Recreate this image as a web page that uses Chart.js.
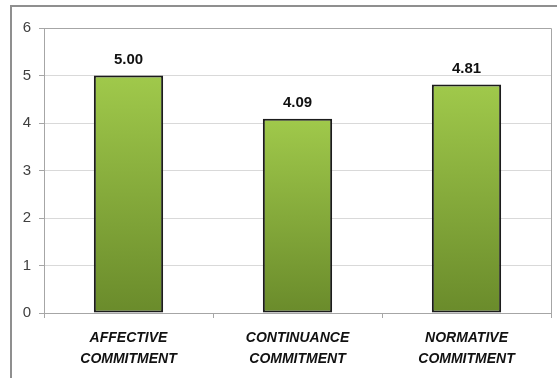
<!DOCTYPE html>
<html>
<head>
<meta charset="utf-8">
<script src="https://cdn.jsdelivr.net/npm/chart.js@4/dist/chart.umd.min.js"></script>
<style>
  html, body { margin: 0; padding: 0; background: #ffffff; }
  #wrap { position: relative; width: 557px; height: 378px; }
</style>
</head>
<body>
<div id="wrap"><canvas id="c" width="557" height="378"></canvas></div>
<script>
const categories = [["AFFECTIVE", "COMMITMENT"], ["CONTINUANCE", "COMMITMENT"], ["NORMATIVE", "COMMITMENT"]];
const values = [5.00, 4.09, 4.81];
const valueLabels = ["5.00", "4.09", "4.81"];
const yTicks = [0, 1, 2, 3, 4, 5, 6];

function barGradient(ctx) {
  const chart = ctx.chart;
  const ys = chart.scales && chart.scales.y;
  if (!ys || ctx.raw === undefined) return '#86ad3a';
  const top = ys.getPixelForValue(ctx.raw);
  const bottom = ys.getPixelForValue(0);
  if (!isFinite(top) || !isFinite(bottom) || top === bottom) return '#86ad3a';
  const g = chart.ctx.createLinearGradient(0, top, 0, bottom);
  g.addColorStop(0, '#a0c94b');
  g.addColorStop(1, '#6a8b2b');
  return g;
}

const framePlugin = {
  id: 'frame',
  beforeDraw(chart) {
    const c = chart.ctx;
    c.save();
    c.strokeStyle = '#8f8f8f';
    c.lineWidth = 2;
    c.beginPath();
    c.moveTo(11, 378);
    c.lineTo(11, 6);
    c.lineTo(557, 6);
    c.stroke();
    c.restore();
  },
  afterDatasetsDraw(chart) {
    const c = chart.ctx;
    const a = chart.chartArea;
    c.save();
    c.strokeStyle = '#a6a6a6';
    c.lineWidth = 1;
    c.beginPath();
    c.moveTo(a.left, a.top + 0.5);
    c.lineTo(a.right + 0.5, a.top + 0.5);
    c.lineTo(a.right + 0.5, a.bottom + 5);
    c.stroke();
    // value labels
    const meta = chart.getDatasetMeta(0);
    c.fillStyle = '#111111';
    c.font = 'bold 15px "Liberation Sans", Arial, sans-serif';
    c.textAlign = 'center';
    c.textBaseline = 'alphabetic';
    meta.data.forEach((el, i) => {
      c.fillText(valueLabels[i], el.x, el.y - 12);
    });
    c.restore();
  }
};

new Chart(document.getElementById('c'), {
  type: 'bar',
  data: {
    labels: categories,
    datasets: [{
      data: values,
      backgroundColor: barGradient,
      borderColor: '#1c1c1c',
      borderWidth: 2,
      borderSkipped: false,
      categoryPercentage: 1.0,
      barPercentage: 0.41
    }]
  },
  options: {
    responsive: false,
    animation: false,
    devicePixelRatio: 1,
    layout: { padding: { top: 28, right: 6, left: 0, bottom: 0 } },
    plugins: { legend: { display: false }, tooltip: { enabled: false } },
    scales: {
      y: {
        min: 0, max: 6,
        afterFit(scale) { scale.width = 44; },
        afterBuildTicks(scale) { scale.ticks = yTicks.map(v => ({ value: v })); },
        ticks: {
          stepSize: 1,
          color: '#404040',
          padding: 8,
          font: { family: '"Liberation Sans", Arial, sans-serif', size: 15 }
        },
        grid: { color: '#d9d9d9', tickColor: '#a6a6a6', tickLength: 5, lineWidth: 1 },
        border: { color: '#a6a6a6', width: 1 }
      },
      x: {
        afterFit(scale) { scale.height = 65; },
        ticks: {
          color: '#111111',
          padding: 10,
          maxRotation: 0,
          font: { family: '"Liberation Sans", Arial, sans-serif', size: 14, weight: 'bold', style: 'italic', lineHeight: 1.5 }
        },
        grid: { offset: true, drawOnChartArea: false, color: '#a6a6a6', tickLength: 5 },
        border: { color: '#a6a6a6', width: 1 }
      }
    }
  },
  plugins: [framePlugin]
});
</script>
</body>
</html>
